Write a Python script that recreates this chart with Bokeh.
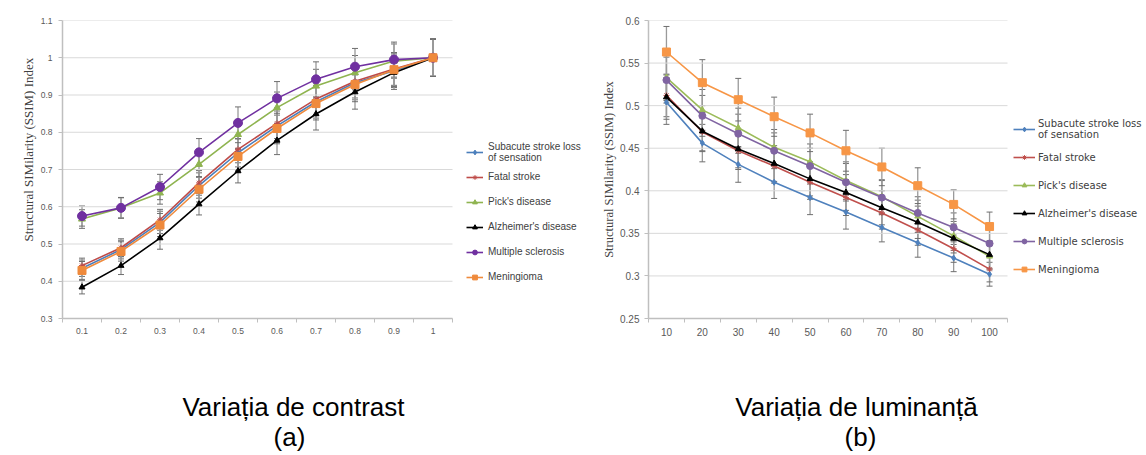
from bokeh.plotting import figure
from bokeh.models import (ColumnDataSource, Range1d, FixedTicker, CustomJSTickFormatter,
                          Whisker, TeeHead, Legend, LegendItem, Title, Label)
from bokeh.layouts import row, column
from bokeh.embed import file_html
from bokeh.resources import INLINE

# ---------------- data ----------------
contrast_labels = ["0.1", "0.2", "0.3", "0.4", "0.5", "0.6", "0.7", "0.8", "0.9", "1"]
luminance_labels = ["10", "20", "30", "40", "50", "60", "70", "80", "90", "100"]
series_names = ["Subacute stroke loss\nof sensation", "Fatal stroke", "Pick's disease",
                "Alzheimer's disease", "Multiple sclerosis", "Meningioma"]

# (a) contrast variation
subacute_a = [0.435, 0.485, 0.558, 0.657, 0.745, 0.817, 0.882, 0.933, 0.965, 1.0]
fatal_a = [0.442, 0.490, 0.565, 0.664, 0.754, 0.824, 0.889, 0.937, 0.970, 1.0]
picks_a = [0.567, 0.597, 0.637, 0.714, 0.794, 0.866, 0.924, 0.960, 0.991, 1.0]
alz_a = [0.384, 0.442, 0.516, 0.607, 0.696, 0.778, 0.849, 0.908, 0.960, 1.0]
ms_a = [0.575, 0.597, 0.653, 0.746, 0.825, 0.891, 0.942, 0.976, 0.995, 1.0]
men_a = [0.429, 0.480, 0.551, 0.647, 0.735, 0.810, 0.877, 0.928, 0.968, 1.0]

subacute_a_err = [0.022, 0.025, 0.030, 0.034, 0.038, 0.040, 0.044, 0.046, 0.045, 0.050]
fatal_a_err = [0.020, 0.024, 0.028, 0.033, 0.036, 0.041, 0.043, 0.045, 0.044, 0.050]
picks_a_err = [0.025, 0.027, 0.030, 0.035, 0.038, 0.042, 0.045, 0.046, 0.046, 0.050]
alz_a_err = [0.018, 0.024, 0.030, 0.029, 0.032, 0.038, 0.043, 0.046, 0.045, 0.050]
ms_a_err = [0.027, 0.028, 0.034, 0.037, 0.043, 0.045, 0.047, 0.049, 0.047, 0.050]
men_a_err = [0.024, 0.026, 0.031, 0.034, 0.037, 0.041, 0.044, 0.046, 0.045, 0.050]

# (b) luminance variation
subacute_b = [0.504, 0.456, 0.431, 0.410, 0.392, 0.375, 0.357, 0.339, 0.321, 0.302]
fatal_b = [0.512, 0.469, 0.447, 0.429, 0.410, 0.392, 0.374, 0.354, 0.332, 0.308]
picks_b = [0.533, 0.495, 0.474, 0.451, 0.434, 0.412, 0.393, 0.370, 0.347, 0.323]
alz_b = [0.510, 0.470, 0.449, 0.432, 0.414, 0.398, 0.380, 0.363, 0.344, 0.325]
ms_b = [0.530, 0.488, 0.467, 0.447, 0.429, 0.410, 0.392, 0.374, 0.357, 0.338]
men_b = [0.563, 0.527, 0.507, 0.487, 0.468, 0.447, 0.428, 0.406, 0.384, 0.358]

subacute_b_err = [0.026, 0.022, 0.021, 0.019, 0.020, 0.020, 0.017, 0.017, 0.016, 0.014]
fatal_b_err = [0.025, 0.023, 0.022, 0.020, 0.020, 0.021, 0.019, 0.018, 0.016, 0.015]
picks_b_err = [0.027, 0.024, 0.023, 0.021, 0.021, 0.022, 0.020, 0.019, 0.017, 0.016]
alz_b_err = [0.026, 0.023, 0.022, 0.021, 0.020, 0.021, 0.020, 0.019, 0.017, 0.016]
ms_b_err = [0.027, 0.024, 0.023, 0.021, 0.021, 0.022, 0.020, 0.019, 0.017, 0.016]
men_b_err = [0.030, 0.027, 0.025, 0.023, 0.022, 0.024, 0.022, 0.021, 0.017, 0.017]

contrast_yticks = [0.3, 0.4, 0.5, 0.6, 0.7, 0.8, 0.9, 1.0, 1.1]
luminance_yticks = [0.25, 0.3, 0.35, 0.4, 0.45, 0.5, 0.55, 0.6]

y_title = "Structural SIMilarity (SSIM) Index"
caption_a = "Variația de contrast"
caption_b = "Variația de luminanță"
sub_a = "(a)"
sub_b = "(b)"

colors_a = ["#4a7ebb", "#be4b48", "#8fb450", "#000000", "#7030a0", "#ef8a3c"]
colors_b = ["#4f81bd", "#c0504d", "#9bbb59", "#000000", "#8064a2", "#f79646"]
markers = ["diamond", "asterisk", "triangle", "triangle", "circle", "square"]
sizes_a = [5, 6, 7, 6, 9, 8]
sizes_b = [6, 6, 6, 6, 7, 8]


def build(labels, series, errs, colors, sizes, yticks, y0, y1, W, H, bl, bt, bb, px_per_cat,
          tick_font, ystand, xstand, legend_font, leg_font_name, leg_item_h,
          leg_loc, glyph_w, standoff, ylab_align, ylab_offset, ylab_stand, ylab_size):
    n = len(labels)
    xs = list(range(1, n + 1))
    frame_w = W - bl
    x_end = 0.5 + frame_w / px_per_cat
    p = figure(width=W, height=H, output_backend="svg", toolbar_location=None,
               x_range=Range1d(0.5, x_end), y_range=Range1d(y0, y1),
               min_border_left=bl, min_border_right=0, min_border_top=bt, min_border_bottom=bb)
    p.outline_line_color = None
    p.background_fill_color = "white"
    p.border_fill_color = "white"

    # horizontal gridlines limited to the plotting area
    p.segment(x0=[0.5] * len(yticks), x1=[n + 0.5] * len(yticks), y0=yticks, y1=yticks,
              line_color="#d9d9d9", line_width=1)

    # axes
    p.xaxis.bounds = (0.5, n + 0.5)
    p.xaxis.ticker = FixedTicker(ticks=xs, minor_ticks=[i + 0.5 for i in range(0, n + 1)])
    p.xaxis.major_label_overrides = {i + 1: lab for i, lab in enumerate(labels)}
    p.xaxis.major_tick_out = 0
    p.xaxis.major_tick_in = 0
    p.xaxis.minor_tick_out = 4
    p.xaxis.minor_tick_in = 0
    p.xaxis.minor_tick_line_color = "#bfbfbf"
    p.xaxis.axis_line_color = "#bfbfbf"
    p.xaxis.axis_line_width = 1.5
    p.xaxis.major_label_standoff = xstand
    p.yaxis.ticker = FixedTicker(ticks=yticks)
    p.yaxis.formatter = CustomJSTickFormatter(code="return String(Number(tick.toFixed(2)));")
    p.yaxis.major_tick_out = 4
    p.yaxis.major_tick_in = 0
    p.yaxis.minor_tick_line_color = None
    p.yaxis.major_tick_line_color = "#bfbfbf"
    p.yaxis.axis_line_color = "#bfbfbf"
    p.yaxis.axis_line_width = 1.5
    p.yaxis.major_label_standoff = ystand
    for ax in (p.xaxis, p.yaxis):
        ax.major_label_text_font = "Liberation Sans"
        ax.major_label_text_font_size = tick_font
        ax.major_label_text_color = "#595959"
    p.grid.visible = False

    items = []
    for k, (ys, er) in enumerate(zip(series, errs)):
        src = ColumnDataSource(dict(x=xs, y=ys,
                                    upper=[a + b for a, b in zip(ys, er)],
                                    lower=[a - b for a, b in zip(ys, er)]))
        w = Whisker(source=src, base="x", upper="upper", lower="lower",
                    line_color="#9a9a9a", line_width=1.3,
                    upper_head=TeeHead(size=6, line_color="#6e6e6e", line_width=1),
                    lower_head=TeeHead(size=6, line_color="#6e6e6e", line_width=1))
        p.add_layout(w)
        ln = p.line("x", "y", source=src, line_color=colors[k], line_width=1.6)
        sc = p.scatter("x", "y", source=src, marker=markers[k], size=sizes[k],
                       fill_color=colors[k], line_color=colors[k])
        items.append(LegendItem(label=series_names[k], renderers=[ln, sc]))

    leg = Legend(items=items, location=leg_loc, orientation="vertical",
                 label_text_font=leg_font_name, label_text_font_size=legend_font,
                 label_text_color="#404040", label_height=leg_item_h, glyph_height=12,
                 glyph_width=glyph_w, label_standoff=standoff, spacing=0, padding=0, margin=0,
                 border_line_color=None, background_fill_alpha=0)
    p.add_layout(leg)

    p.add_layout(Title(text=y_title, align=ylab_align, offset=ylab_offset, standoff=ylab_stand,
                       text_font="Liberation Serif", text_font_size=ylab_size,
                       text_font_style="normal", text_color="#404040"), "left")
    return p


def caption_fig(W, H, cx, cy, text, sx, sy, sub):
    c = figure(width=W, height=H, output_backend="svg", toolbar_location=None,
               x_range=Range1d(0, W), y_range=Range1d(0, H),
               x_axis_location=None, y_axis_location=None,
               min_border_left=0, min_border_right=0, min_border_top=0, min_border_bottom=0)
    c.outline_line_color = None
    c.grid.visible = False
    c.add_layout(Label(x=cx, y=cy, text=text, text_font="Liberation Sans", text_font_size="26px",
                       text_color="#000000", text_align="center", text_baseline="alphabetic"))
    c.add_layout(Label(x=sx, y=sy, text=sub, text_font="Liberation Sans", text_font_size="26px",
                       text_color="#000000", text_align="center", text_baseline="alphabetic"))
    return c


p1 = build(contrast_labels,
           [subacute_a, fatal_a, picks_a, alz_a, ms_a, men_a],
           [subacute_a_err, fatal_a_err, picks_a_err, alz_a_err, ms_a_err, men_a_err],
           colors_a, sizes_a, contrast_yticks, 0.3, 1.1,
           590, 350, 62, 19, 31, 39.0,
           "8.5px", 6, 5, "10px", "Liberation Sans", 25,
           (404, 29), 17, 5, "left", 77, 3, "13px")

p2 = build(luminance_labels,
           [subacute_b, fatal_b, picks_b, alz_b, ms_b, men_b],
           [subacute_b_err, fatal_b_err, picks_b_err, alz_b_err, ms_b_err, men_b_err],
           colors_b, sizes_b, luminance_yticks, 0.25, 0.6,
           556, 350, 58, 20, 32, 35.9,
           "10px", 5, 5, "10px", "DejaVu Sans", 28,
           (365, 35), 22, 3, "center", 0, 3, "12.5px")

c1 = caption_fig(590, 105, 293, 49, caption_a, 289, 19, sub_a)
c2 = caption_fig(556, 105, 266, 49, caption_b, 270, 19, sub_b)

p = column(row(p1, p2), row(c1, c2))
open("out.html", "w").write(file_html(p, INLINE))
